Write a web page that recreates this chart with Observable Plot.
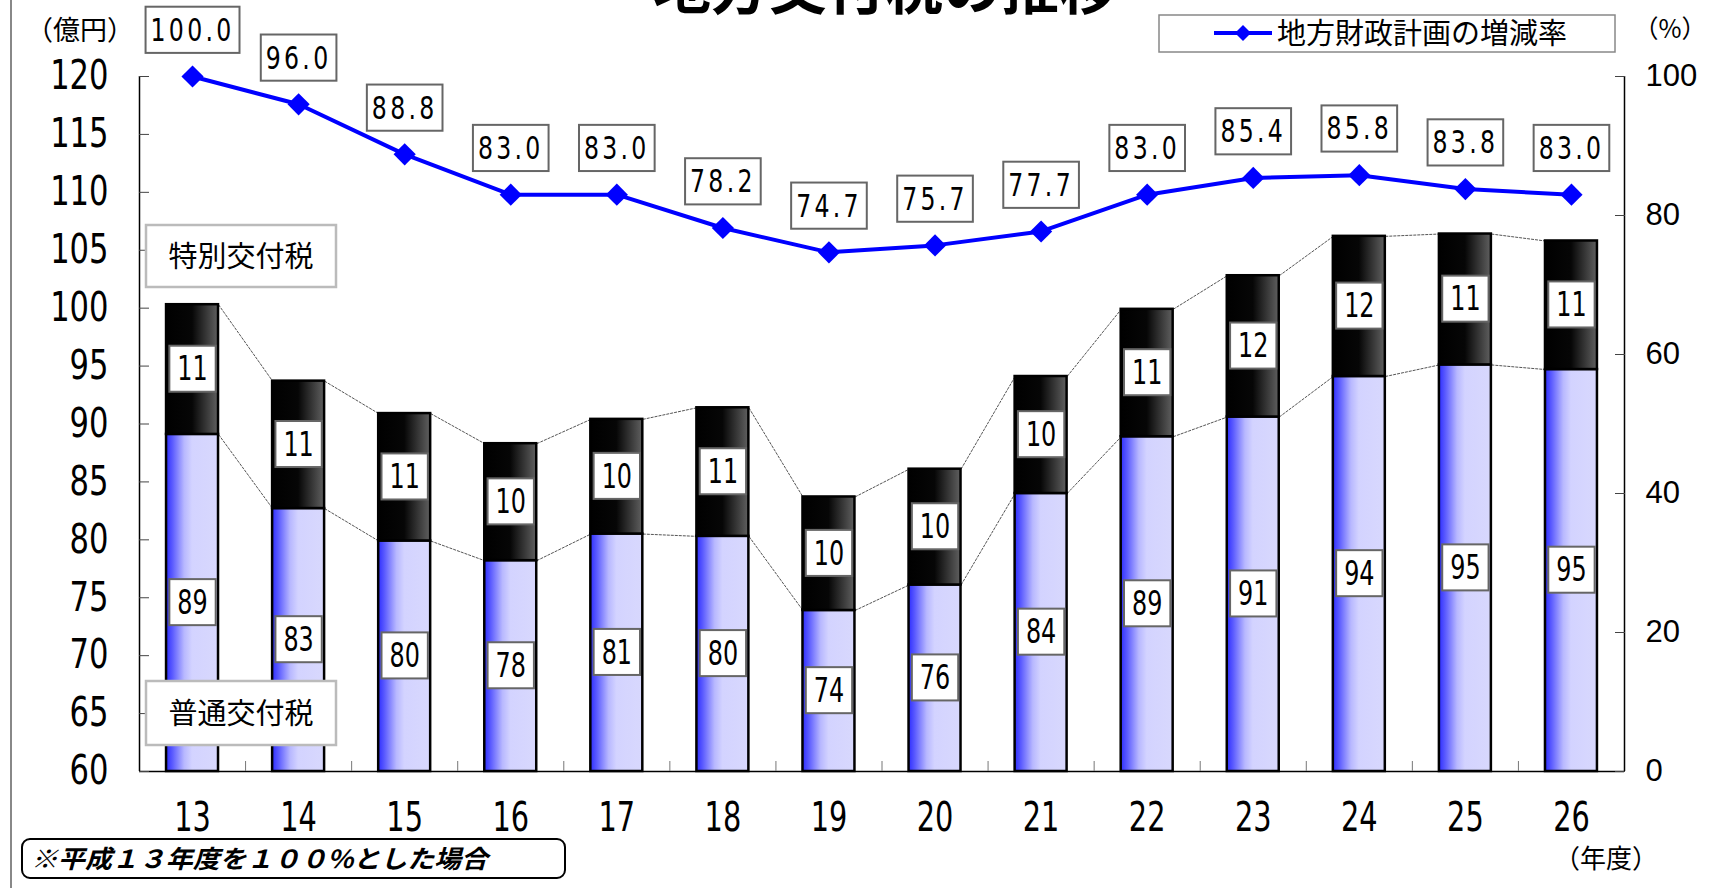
<!DOCTYPE html>
<html><head><meta charset="utf-8">
<script src="https://cdn.jsdelivr.net/npm/d3@7"></script>
<script src="https://cdn.jsdelivr.net/npm/@observablehq/plot@0.6"></script>
<style>
html,body{margin:0;padding:0;background:#fff;overflow:hidden}
#wrap{position:relative;width:1718px;height:888px}
#wrap > svg{position:absolute;left:0;top:0}
</style></head><body><div id="wrap"></div>
<script>
// ---- data ----
const years = ["13","14","15","16","17","18","19","20","21","22","23","24","25","26"];
const normal = [89.1, 82.7, 79.9, 78.2, 80.5, 80.3, 73.9, 76.1, 84.0, 88.9, 90.6, 94.1, 95.1, 94.7];
const special = [11.2, 11.0, 11.0, 10.1, 9.9, 11.1, 9.8, 10.0, 10.1, 11.0, 12.2, 12.1, 11.3, 11.1];
const normalLabels = ["89","83","80","78","81","80","74","76","84","89","91","94","95","95"];
const specialLabels = ["11","11","11","10","10","11","10","10","10","11","12","12","11","11"];
const rate = [100.0, 96.0, 88.8, 83.0, 83.0, 78.2, 74.7, 75.7, 77.7, 83.0, 85.4, 85.8, 83.8, 83.0];
const leftTicks = [60,65,70,75,80,85,90,95,100,105,110,115,120];
const rightTicks = [0,20,40,60,80,100];

// ---- setup ----
const NARROW = '"DejaVu Sans Condensed","DejaVu Sans",sans-serif';
const JP = '"Noto Sans CJK JP","Noto Sans CJK SC",sans-serif';
const Y0 = leftTicks[0], Y1 = leftTicks[leftTicks.length-1];
const pctToY = p => Y0 + p * (Y1 - Y0) / 100;
const BW = 0.245;
const rows = years.map((yr, i) => ({i, yr, normal: normal[i], special: special[i], total: normal[i] + special[i],
  nl: normalLabels[i], sl: specialLabels[i], rate: rate[i], ry: pctToY(rate[i])}));
const pairs = rows.slice(0, -1).map((a, k) => ({a, b: rows[k + 1]}));
const bounds = d3.range(years.length - 1).map(i => i + 0.5);

const defs = () => {
  const d = d3.create("svg:defs");
  const gb = d.append("linearGradient").attr("id", "gBlue");
  [[0,"#2e2eff"],[0.12,"#5a5aff"],[0.35,"#b8b8ff"],[0.5,"#d3d3ff"],[1,"#d8d8fd"]].forEach(([o,c]) => gb.append("stop").attr("offset", o).attr("stop-color", c));
  const gd = d.append("linearGradient").attr("id", "gDark");
  [[0,"#000"],[0.5,"#060606"],[1,"#606060"]].forEach(([o,c]) => gd.append("stop").attr("offset", o).attr("stop-color", c));
  return d.node();
};

const chart = Plot.plot({
  width: 1718, height: 888,
  marginLeft: 139, marginRight: 94, marginTop: 76, marginBottom: 117,
  x: {type: "linear", domain: [-0.5, years.length - 0.5], axis: null},
  y: {domain: [Y0, Y1], axis: null},
  style: {background: "white", fontFamily: NARROW, overflow: "visible"},
  marks: [
    defs,
    Plot.link(pairs, {x1: d => d.a.i + BW, x2: d => d.b.i - BW, y1: d => d.a.normal, y2: d => d.b.normal, stroke: "#555", strokeWidth: 1, strokeDasharray: "3,1"}),
    Plot.link(pairs, {x1: d => d.a.i + BW, x2: d => d.b.i - BW, y1: d => d.a.total, y2: d => d.b.total, stroke: "#555", strokeWidth: 1, strokeDasharray: "3,1"}),
    Plot.rect(rows, {x1: d => d.i - BW, x2: d => d.i + BW, y1: Y0, y2: "normal", fill: "url(#gBlue)", stroke: "#000", strokeWidth: 2.5}),
    Plot.rect(rows, {x1: d => d.i - BW, x2: d => d.i + BW, y1: "normal", y2: "total", fill: "url(#gDark)", stroke: "#000", strokeWidth: 2.5}),
    Plot.ruleX([-0.5, years.length - 0.5], {stroke: "#000", strokeWidth: 1.5}),
    Plot.ruleY([Y0], {stroke: "#000", strokeWidth: 1.5}),
    // inward ticks
    Plot.axisY({anchor: "left", ticks: leftTicks, tickSize: 10, dx: 10, fill: "none", stroke: "#444", label: null, tickFormat: () => ""}),
    Plot.axisY({anchor: "right", ticks: rightTicks.map(pctToY), tickSize: 10, dx: -10, fill: "none", stroke: "#444", label: null, tickFormat: () => ""}),
    Plot.axisX({anchor: "bottom", ticks: bounds, tickSize: 10, dy: -10, fill: "none", stroke: "#777", label: null, tickFormat: () => ""}),
    // tick labels
    Plot.axisY({anchor: "left", ticks: leftTicks, tickSize: 0, tickPadding: 31, label: null, fontSize: 40, fontFamily: NARROW, fill: "#000"}),
    Plot.axisY({anchor: "right", ticks: rightTicks.map(pctToY), tickSize: 0, tickPadding: 21, label: null, fontSize: 31, fontFamily: '"Liberation Sans",Arial,sans-serif', fill: "#000",
      tickFormat: v => String(Math.round((v - Y0) * 100 / (Y1 - Y0)))}),
    Plot.axisX({anchor: "bottom", ticks: d3.range(years.length), tickSize: 0, tickPadding: 31, label: null, fontSize: 40, fontFamily: NARROW, fill: "#000",
      tickFormat: i => years[i]}),
    // rate line
    Plot.line(rows, {x: "i", y: "ry", stroke: "#0000ff", strokeWidth: 4}),
    Plot.dot(rows, {x: "i", y: "ry", symbol: "diamond2", r: 10, fill: "#0000ff", stroke: "none"}),
    // labels
    Plot.text(rows, {x: "i", y: d => (Y0 + d.normal) / 2, text: "nl", fontSize: 34, fill: "#000"}),
    Plot.text(rows, {x: "i", y: d => (d.normal + d.total) / 2, text: "sl", fontSize: 34, fill: "#000"}),
    Plot.text(rows, {x: "i", y: "ry", dy: -46, text: d => d.rate.toFixed(1), fontSize: 32, fill: "#000"})
  ]
});
const wrap = document.getElementById("wrap");
wrap.append(chart);

function squeeze(sel, sx) {
  chart.querySelectorAll(sel).forEach(t => {
    const tr = t.getAttribute("transform") || "";
    t.dataset.base = tr;
    t.setAttribute("transform", tr + ` scale(${sx},1)`);
  });
}
function boxify(sel, sx, padX, padY) {
  chart.querySelectorAll(sel).forEach(t => {
    const b = t.getBBox();
    const r = document.createElementNS("http://www.w3.org/2000/svg", "rect");
    r.setAttribute("x", b.x * sx - padX); r.setAttribute("y", b.y - padY);
    r.setAttribute("width", b.width * sx + 2 * padX); r.setAttribute("height", b.height + 2 * padY);
    if (t.dataset.base) r.setAttribute("transform", t.dataset.base);
    r.setAttribute("fill", "#fff"); r.setAttribute("stroke", "#666"); r.setAttribute("stroke-width", 2);
    t.parentNode.insertBefore(r, t);
  });
}
squeeze('g[aria-label="y-axis tick label"][font-size="40"] text', 0.85);
squeeze('g[aria-label="x-axis tick label"] text', 0.8);
squeeze('g[aria-label="text"][font-size="34"] text', 0.78);
chart.querySelectorAll('g[aria-label="text"][font-size="32"] text').forEach(t => t.style.letterSpacing = "4px");
squeeze('g[aria-label="text"][font-size="32"] text', 0.82);
boxify('g[aria-label="text"][font-size="34"] text', 0.78, 8, 3.5);
boxify('g[aria-label="text"][font-size="32"] text', 0.82, 5, 4.5);

// ---- annotations overlay ----
const ov = d3.select(wrap).append("svg").attr("width", 1718).attr("height", 888).style("pointer-events", "none")
  .attr("font-family", JP);
ov.append("line").attr("x1", 11).attr("x2", 11).attr("y1", 0).attr("y2", 888).attr("stroke", "#888").attr("stroke-width", 2);
ov.append("text").attr("x", 885).attr("y", 9).attr("text-anchor", "middle").attr("font-size", 58).attr("font-weight", "bold").text("地方交付税の推移");
ov.append("text").attr("x", 80).attr("y", 40).attr("text-anchor", "middle").attr("font-size", 27).text("（億円）");
ov.append("text").attr("x", 1670).attr("y", 38).attr("text-anchor", "middle").attr("font-size", 25).text("（%）");
const lg = ov.append("g");
lg.append("rect").attr("x", 1159).attr("y", 15).attr("width", 456).attr("height", 37).attr("fill", "#fff").attr("stroke", "#888").attr("stroke-width", 1.5);
lg.append("line").attr("x1", 1214).attr("x2", 1272).attr("y1", 33).attr("y2", 33).attr("stroke", "#0000ff").attr("stroke-width", 4);
lg.append("path").attr("d", "M1243,25L1251,33L1243,41L1235,33Z").attr("fill", "#0000ff");
lg.append("text").attr("x", 1277).attr("y", 44).attr("font-size", 29).attr("textLength", 290).attr("lengthAdjust", "spacingAndGlyphs").text("地方財政計画の増減率");
ov.append("rect").attr("x", 146).attr("y", 225).attr("width", 190).attr("height", 62).attr("fill", "#fff").attr("stroke", "#bbb").attr("stroke-width", 2.5);
ov.append("text").attr("x", 241).attr("y", 267).attr("text-anchor", "middle").attr("font-size", 29).text("特別交付税");
ov.append("rect").attr("x", 146).attr("y", 681).attr("width", 190).attr("height", 64).attr("fill", "#fff").attr("stroke", "#bbb").attr("stroke-width", 2.5);
ov.append("text").attr("x", 241).attr("y", 724).attr("text-anchor", "middle").attr("font-size", 29).text("普通交付税");
ov.append("text").attr("x", 1606).attr("y", 868).attr("text-anchor", "middle").attr("font-size", 26).text("（年度）");
ov.append("rect").attr("x", 22).attr("y", 839).attr("width", 543).attr("height", 39).attr("rx", 8).attr("fill", "#fff").attr("stroke", "#000").attr("stroke-width", 2);
ov.append("text").attr("x", 31).attr("y", 868).attr("font-size", 25).attr("font-weight", "bold").attr("font-style", "italic").attr("textLength", 457).attr("lengthAdjust", "spacingAndGlyphs").text("※平成１３年度を１００%とした場合");
</script></body></html>
